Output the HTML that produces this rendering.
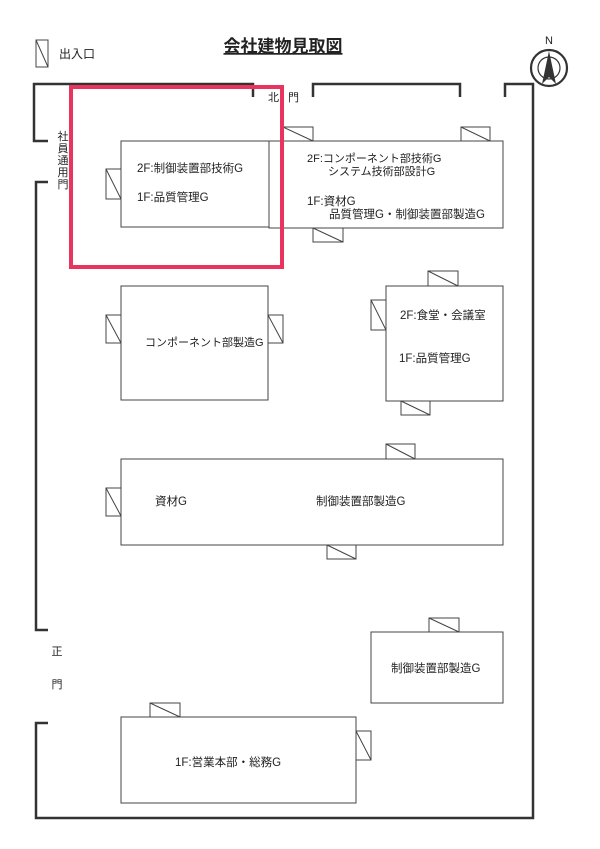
<!DOCTYPE html>
<html><head><meta charset="utf-8"><style>
html,body{margin:0;padding:0;background:#fff;}
svg{display:block;}
text{font-family:"Liberation Sans","Noto Sans CJK JP",sans-serif;fill:#222;}
</style></head><body>
<svg width="600" height="849" viewBox="0 0 600 849" xmlns="http://www.w3.org/2000/svg">
<g fill="none" stroke="#333" stroke-width="2.5">
<polyline points="253,97 253,84 34,84 34,141 48,141"/>
<polyline points="48,182 36,182 36,630 48,630"/>
<polyline points="48,723 36,723 36,818 533,818 533,84 505,84 505,97"/>
<polyline points="313,97 313,84 460,84 460,97"/>
</g>
<g fill="#fff" stroke="#444" stroke-width="1">
<rect x="121" y="141" width="148" height="86"/>
<rect x="269" y="141" width="234" height="87"/>
<rect x="121" y="286" width="147" height="114"/>
<rect x="386" y="286" width="117" height="115"/>
<rect x="121" y="459" width="382" height="86"/>
<rect x="371" y="632" width="132" height="71"/>
<rect x="121" y="717" width="235" height="86"/>
</g>
<g fill="#fff" stroke="#444" stroke-width="1">
<rect x="36" y="40" width="12" height="27"/><line x1="36" y1="40" x2="48" y2="67"/>
<rect x="106" y="169" width="15" height="30"/><line x1="106" y1="169" x2="121" y2="199"/>
<rect x="283" y="127" width="30" height="14"/><line x1="283" y1="127" x2="313" y2="141"/>
<rect x="461" y="127" width="29" height="14"/><line x1="461" y1="127" x2="490" y2="141"/>
<rect x="313" y="228" width="30" height="14"/><line x1="313" y1="228" x2="343" y2="242"/>
<rect x="106" y="315" width="15" height="28"/><line x1="106" y1="315" x2="121" y2="343"/>
<rect x="268" y="315" width="15" height="28"/><line x1="268" y1="315" x2="283" y2="343"/>
<rect x="428" y="271" width="30" height="15"/><line x1="428" y1="271" x2="458" y2="286"/>
<rect x="371" y="300" width="15" height="30"/><line x1="371" y1="300" x2="386" y2="330"/>
<rect x="401" y="401" width="29" height="14"/><line x1="401" y1="401" x2="430" y2="415"/>
<rect x="106" y="488" width="15" height="28"/><line x1="106" y1="488" x2="121" y2="516"/>
<rect x="386" y="444" width="29" height="15"/><line x1="386" y1="444" x2="415" y2="459"/>
<rect x="327" y="545" width="29" height="14"/><line x1="327" y1="545" x2="356" y2="559"/>
<rect x="429" y="618" width="30" height="14"/><line x1="429" y1="618" x2="459" y2="632"/>
<rect x="150" y="703" width="30" height="14"/><line x1="150" y1="703" x2="180" y2="717"/>
<rect x="356" y="731" width="15" height="29"/><line x1="356" y1="731" x2="371" y2="760"/>
</g>
<rect x="71" y="87" width="211" height="180" fill="none" stroke="#e8345e" stroke-width="4"/>
<g transform="translate(549,68)">
<circle r="18" fill="none" stroke="#333" stroke-width="2.2"/>
<circle r="11" fill="none" stroke="#333" stroke-width="1.2"/>
<polygon points="0,-17 -7,16 0,9 7,16" fill="#333"/>
</g>
<text x="549" y="44" font-size="11" text-anchor="middle">N</text>
<text x="283" y="52" font-size="17" font-weight="bold" text-anchor="middle" text-decoration="underline">会社建物見取図</text>
<text x="59" y="58" font-size="12">出入口</text>
<text x="268" y="101" font-size="11">北</text><text x="288" y="101" font-size="11">門</text>
<g font-size="11" text-anchor="middle">
<text x="63" y="140">社</text><text x="63" y="152">員</text><text x="63" y="164">通</text><text x="63" y="176">用</text><text x="63" y="188">門</text>
<text x="57" y="655">正</text><text x="57" y="688">門</text>
</g>
<g font-size="11.5">
<text x="137" y="172">2F:制御装置部技術G</text>
<text x="137" y="201">1F:品質管理G</text>
<text x="307" y="162" font-size="11">2F:コンポーネント部技術G</text>
<text x="328" y="175" font-size="11">システム技術部設計G</text>
<text x="307" y="205">1F:資材G</text>
<text x="329" y="218">品質管理G・制御装置部製造G</text>
<text x="145" y="346" font-size="11">コンポーネント部製造G</text>
<text x="400" y="319">2F:食堂・会議室</text>
<text x="399" y="362">1F:品質管理G</text>
<text x="155" y="505">資材G</text>
<text x="316" y="505">制御装置部製造G</text>
<text x="391" y="672">制御装置部製造G</text>
<text x="175" y="766">1F:営業本部・総務G</text>
</g>
</svg>
</body></html>
